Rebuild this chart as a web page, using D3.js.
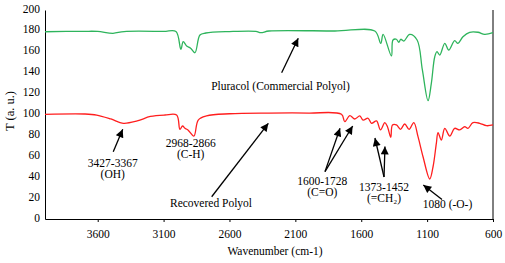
<!DOCTYPE html>
<html>
<head>
<meta charset="utf-8">
<script src="https://cdn.jsdelivr.net/npm/d3@7"></script>
<style>
  body { margin: 0; background: #fff; }
  text { font-family: "Liberation Serif", "Times New Roman", serif; }
</style>
</head>
<body>
<div id="chart"></div>
<script>
// FTIR spectra: commercial polyol (green) vs recovered polyol (red)

// wavenumber (cm-1) and transmittance
const pluracolWave = [4000, 3700, 3600, 3484, 3400, 3100, 3006, 2969, 2951, 2925, 2895, 2862, 2824, 2780, 2600, 2400, 2362, 2300,
  1800, 1497, 1452, 1434, 1371, 1359, 1333, 1315, 1300, 1277, 1232, 1176, 1136, 1093, 1068, 1042, 1025, 1004, 966, 936,
  891, 866, 828, 777, 714, 663, 600];
const pluracolT = [179.2, 179.6, 179.5, 177.7, 179.4, 179.5, 179.4, 162.4, 169.7, 165.5, 163.5, 159.1, 176.1, 178, 179.4, 179.6, 178.3, 179.9,
  179.9, 179.9, 168.1, 176.7, 156, 171.3, 172, 169.1, 172, 170.3, 176.7, 171.3, 142.6, 113.2, 129.8, 155.3, 160.1, 156.9, 168.1, 161.7,
  170.6, 168.1, 174.4, 178.7, 178.7, 176.7, 178.3];

const recoveredWave = [4000, 3700, 3608, 3500, 3406, 3300, 3200, 3090, 3001, 2976, 2956, 2938, 2915, 2870, 2837, 2774, 2600, 2300,
  2000, 1750, 1725, 1687, 1649, 1611, 1586, 1548, 1522, 1484, 1454, 1421, 1401, 1376, 1363, 1333, 1302, 1270, 1237, 1201,
  1169, 1131, 1080, 1055, 1030, 1017, 992, 966, 928, 891, 853, 815, 790, 752, 701, 650, 600];
const recoveredT = [100.2, 100.5, 99.5, 95.7, 91.6, 93.8, 98.1, 99.5, 99.5, 85.8, 89, 86.8, 85.2, 79.4, 94.7, 98.6, 100.7, 101.4,
  101.4, 100.2, 93.1, 98.9, 95.7, 98.6, 94.7, 96.4, 91.6, 93.8, 85.2, 92.2, 88.3, 78.2, 90, 90, 85.8, 90.9, 85.8, 92.2,
  78.8, 59.6, 38.3, 50, 72.4, 82.6, 75.6, 86.8, 79.4, 86.8, 85.2, 88.3, 86.8, 92.2, 91.6, 89.3, 90];

const xTicks = [3600, 3100, 2600, 2100, 1600, 1100, 600];
const yTicks = [0, 20, 40, 60, 80, 100, 120, 140, 160, 180, 200];

// annotation labels: [wavenumber, T, lines]
const labels = [
  [2213, 123.9, ["Pluracol (Commercial Polyol)"]],
  [2740, 11.5, ["Recovered Polyol"]],
  [3486, 50.2, ["3427-3367", "(OH)"]],
  [2894, 68.6, ["2968-2866", "(C-H)"]],
  [1896, 32.5, ["1600-1728", "(C=O)"]],
  [1427, 26.8, ["1373-1452", "(=CH\u2082)"]],
  [945, 10.5, ["1080 (-O-)"]]
];
// arrows: [tail wave, tail T, tip wave, tip T]
const arrows = [
  [2204, 140, 2078, 172.9],
  [2735, 21.3, 2305, 91.6],
  [3482, 64.4, 3410, 85.8],
  [1875, 45.3, 1761, 86.8],
  [1875, 45.3, 1665, 89],
  [1427, 40.2, 1496, 77.5],
  [1427, 40.2, 1420, 69.4],
  [987, 18.7, 1129, 32.5]
];

const W = 505, H = 263;
const margin = { top: 10, right: 12, bottom: 44, left: 45 };
const width = W - margin.left - margin.right,
      height = H - margin.top - margin.bottom;

const svg = d3.select("#chart").append("svg")
    .attr("width", W)
    .attr("height", H);

svg.append("defs").append("marker")
    .attr("id", "head")
    .attr("markerUnits", "userSpaceOnUse")
    .attr("viewBox", "0 0 10 10")
    .attr("refX", 10).attr("refY", 5)
    .attr("markerWidth", 9).attr("markerHeight", 8)
    .attr("orient", "auto")
  .append("path")
    .attr("d", "M0,0L10,5L0,10z")
    .attr("fill", "#000");

const g = svg.append("g")
    .attr("transform", `translate(${margin.left},${margin.top})`);

const x = d3.scaleLinear().domain([4000, 600]).range([0, width]);
const y = d3.scaleLinear().domain([0, 200]).range([height, 0]);

// axes
const xAxis = g.append("g")
    .attr("transform", `translate(0,${height})`)
    .call(d3.axisBottom(x).tickValues(xTicks).tickFormat(d3.format("d"))
      .tickSize(3).tickSizeOuter(0).tickPadding(8));
const yAxis = g.append("g")
    .call(d3.axisLeft(y).tickValues(yTicks).tickSize(0).tickPadding(5));

[xAxis, yAxis].forEach(a => {
  a.selectAll("text").attr("font-family", "Liberation Serif").attr("font-size", 11.5).attr("fill", "#000");
  a.select(".domain").attr("stroke", "#000");
});
yAxis.selectAll("text").attr("dy", "0.18em");

// right border
g.append("line")
    .attr("x1", width).attr("x2", width)
    .attr("y1", 0).attr("y2", height)
    .attr("stroke", "#000");

// spectra
const line = d3.line()
    .x(d => x(d[0]))
    .y(d => y(d[1]))
    .curve(d3.curveCatmullRom.alpha(0.5));

const series = [
  { wave: pluracolWave, t: pluracolT, color: "#2eb45c" },
  { wave: recoveredWave, t: recoveredT, color: "#ff1e1e" }
];

series.forEach(s => {
  g.append("path")
      .datum(s.wave.map((w, i) => [w, s.t[i]]))
      .attr("fill", "none")
      .attr("stroke", s.color)
      .attr("stroke-width", 1.3)
      .attr("d", line);
});

// arrows
g.selectAll(".arrow")
  .data(arrows)
  .join("line")
    .attr("class", "arrow")
    .attr("x1", d => x(d[0])).attr("y1", d => y(d[1]))
    .attr("x2", d => x(d[2])).attr("y2", d => y(d[3]))
    .attr("stroke", "#000")
    .attr("stroke-width", 1.3)
    .attr("marker-end", "url(#head)");

// annotation text
labels.forEach(([w, t, lines]) => {
  const txt = g.append("text")
      .attr("x", x(w))
      .attr("y", y(t))
      .attr("text-anchor", "middle")
      .attr("font-size", 11.5)
      .attr("fill", "#000");
  lines.forEach((l, i) => {
    txt.append("tspan")
        .attr("x", x(w))
        .attr("dy", i === 0 ? 0 : 11)
        .text(l);
  });
});

// axis titles
svg.append("text")
    .attr("x", 275)
    .attr("y", 255)
    .attr("text-anchor", "middle")
    .attr("font-size", 11.5)
    .text("Wavenumber (cm-1)");

svg.append("text")
    .attr("transform", "translate(14,111) rotate(-90)")
    .attr("text-anchor", "middle")
    .attr("font-size", 12.5)
    .text("T (a. u.)");
</script>
</body>
</html>
